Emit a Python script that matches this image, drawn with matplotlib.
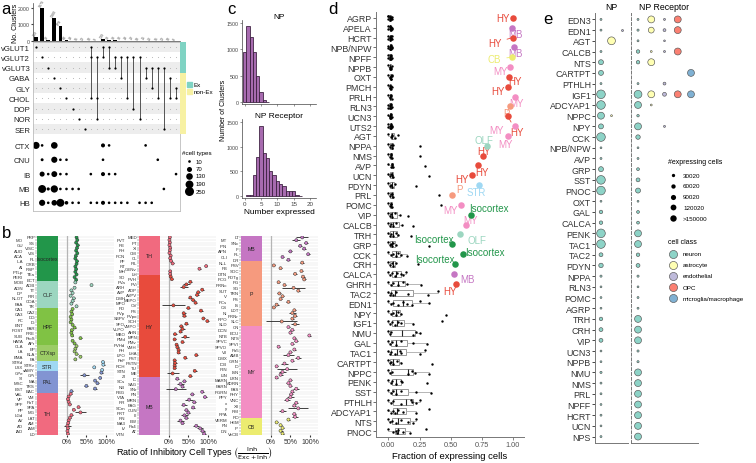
import numpy as np
import matplotlib
matplotlib.use("Agg")
import matplotlib.pyplot as plt
import matplotlib.transforms as mtrans

plt.rcParams['font.family'] = ['Liberation Sans', 'DejaVu Sans']

W, H = 756, 464
fig = plt.figure(figsize=(W / 100, H / 100), dpi=100)


def px_axes(l, t, w, h):
    return fig.add_axes([l / W, 1 - (t + h) / H, w / W, h / H])


# ---------------- data: panel a ----------------
nt_names = ["vGLUT1", "vGLUT2", "vGLUT3", "GABA", "GLY", "CHOL", "DOP", "NOR", "SER"]
combo_sets = [[0], [1], [2], [3], [4], [5], [6], [7], [8], [0, 1, 5], [1, 5, 7], [0, 1],
              [0, 2], [1, 2], [1, 3], [1, 5], [1, 6], [1, 7], [2, 3], [2, 4], [2, 5],
              [2, 8], [3, 5], [4, 5]]
combo_counts = [239, 1979, 32, 1380, 878, 64, 28, 15, 12, 10, 9, 139,
                38, 33, 30, 28, 22, 18, 25, 20, 15, 12, 10, 8]
region_names = ["CTX", "CNU", "IB", "MB", "HB"]
ctx_types = [150, 10, 0, 130, 0, 0, 0, 0, 0, 0, 0, 40, 10, 0, 0, 0, 0, 0, 10, 0, 0, 0, 0, 0]
cnu_types = [0, 15, 0, 110, 10, 10, 0, 0, 0, 0, 0, 10, 0, 0, 0, 0, 0, 0, 0, 0, 10, 0, 0, 0]
ib_types = [0, 70, 10, 100, 10, 10, 0, 0, 0, 10, 0, 40, 10, 10, 0, 0, 0, 0, 0, 0, 0, 0, 0, 10]
mb_types = [0, 190, 20, 160, 10, 10, 10, 10, 0, 0, 0, 0, 0, 0, 0, 0, 0, 0, 0, 0, 0, 10, 0, 0]
hb_types = [0, 110, 10, 90, 190, 30, 10, 10, 0, 10, 10, 40, 10, 10, 10, 10, 0, 10, 10, 10, 0, 0, 0, 0]
size_legend_vals = [10, 70, 130, 190, 250]

# ---------------- data: panel b ----------------
b1_names = ["FRP", "MO", "SS", "GU", "VISC", "AUD", "VIS", "ACA", "PL", "ILA", "ORB", "AI", "RSP", "PTLp",
            "TEa", "PERI", "ECT", "MOB", "AOB", "AON", "TT", "DP", "PIR", "NLOT", "COA", "PAA", "TR",
            "CA1", "CA2", "CA3", "DG", "FC", "IG", "ENT", "PAR", "POST", "PRE", "SUB", "ProS", "HATA",
            "APr", "CLA", "EP", "LA", "BLA", "BMA", "PA", "STRd", "STRv", "LSX", "sAMY", "GPe", "GPi",
            "SI", "MA", "MSC", "TRS", "BST", "BAC", "VAL", "VM", "VP", "PoT", "SPF", "SPA", "PP", "MG",
            "LGd", "LAT", "AV", "AM", "AD", "IAM", "IAD", "LD"]
b1_vals = [.25, .27, .24, .28, .26, .24, .27, .23, .22, .26, .25, .22, .24, .22, .25, .20, .24,
           .22, .63, .20, .12, .15, .10, .18, .15, .12, .25,
           .15, .12, .14, .10, .12, .10, .15, .20, .13, .12, .14, .35, .15, .20,
           .25, .22, .20, .25, .35, .22,
           .92, .93, .70, .90,
           .88, .45, .85, .72, .78, .50, .72, .12,
           .10, .05, .03, .05, .08, .30, .18, .35, .12, .08, .05, .04, .02, .03, .02, .03]
b1_err = [.02, .02, .02, .02, .02, .02, .02, .02, .02, .02, .02, .02, .02, .02, .02, .02, .02,
          .02, .02, .02, .02, .02, .02, .02, .03, .02, .02,
          .02, .02, .02, .02, .02, .02, .02, .03, .02, .02, .02, .05, .02, .02,
          .02, .02, .02, .03, .02, .02,
          .03, .03, .03, .03,
          .03, .12, .03, .03, .04, .05, .04, .03,
          .03, .02, .02, .02, .02, .04, .03, .15, .03, .02, .02, .02, .08, .02, .02, .02]
b1_blocks = ["Isocortex", "OLF", "HPF", "CTXsp", "STR", "PAL", "TH"]
b1_block_n = [17, 10, 14, 6, 4, 8, 16]

b2_names = ["MED", "PVT", "PT", "RE", "Xi", "RH", "CM", "PCN", "CL", "PF", "PIL", "RT", "GENv", "MH", "LH",
            "SO", "PVH", "PVa", "PVi", "ARH", "ADP", "AVP", "AVPV", "DMH", "MEPO", "MPO", "OV", "PD",
            "PS", "PVp", "PVpo", "SBPV", "SCH", "SFO", "VMPO", "VLPO", "AHN", "MBO", "MPN", "PMd",
            "PMv", "PVHd", "VMH", "PH", "LHA", "LPO", "PST", "PeF", "PSTN", "RCH", "TU", "STN", "ME",
            "ZI", "IC", "SCs", "SAG", "NB", "SNr", "PBG", "PN", "VTA", "MRN", "RR", "PAG", "SCm", "CUN",
            "PRT", "III", "RN", "EW", "MA3", "Pa4", "IV", "AT", "VTN"]
b2_vals = [.03, .02, .03, .02, .04, .03, .02, .05, .04, .06, .10, .95, .78, .04, .04,
           .05, .08, .55, .45, .38, .85, .75, .72, .55, .62, .68, .12, .50, .82, .38, .40, .88,
           .98, .45, .32, .35, .30, .16, .42, .15, .35, .20, .22, .25, .25, .70, .42, .15, .16,
           .15, .15, .66, .10, .55,
           .22, .40, .30, .35, .18, .85, .60, .92, .52, .65, .38, .62, .45, .50, .40, .45, .30,
           .35, .70, .80, .86, .90]
b2_err = [.01, .01, .01, .01, .01, .01, .01, .02, .01, .02, .03, .03, .04, .02, .02,
          .02, .02, .05, .08, .10, .04, .05, .04, .05, .05, .04, .30, .05, .04, .05, .05, .04,
          .04, .05, .05, .06, .05, .04, .10, .04, .05, .04, .04, .04, .04, .04, .04, .03, .04,
          .04, .04, .05, .15, .05,
          .05, .05, .10, .05, .25, .04, .05, .04, .10, .05, .08, .05, .05, .05, .10, .05, .08,
          .05, .08, .08, .06, .05]
b2_blocks = ["TH", "HY", "MB"]
b2_block_n = [15, 39, 22]

b3_names = ["LT", "MT", "SNc", "IPN", "IF", "APN", "RL", "CLI", "DR",
            "NLL", "PSV", "PB", "SOC", "DTN", "PDTg", "PCG", "PG", "PRNc", "SG", "SUT", "TRN", "V",
            "PS", "PCs", "IS", "CS", "LDT", "NI", "PRNr", "RPO", "SLC", "SLD",
            "CN", "DCN", "ECU", "NTB", "NTS", "SPVC", "SPVI", "SPVO", "Pa5", "VII", "AMB", "DMX",
            "GRN", "ICB", "IO", "IRN", "ISN", "LIN", "LRN", "MARN", "MDRN", "PARN", "PAS", "PGRN",
            "PHY", "PPY", "VNC", "x", "XII", "y", "RM", "RPA", "RO",
            "VERM", "HEM", "FN", "IP", "DN", "VeCB"]
b3_vals = [.80, .65, .90, .75, .85, .50, .95, .30, .45,
           .80, .08, .25, .78, .62, .82, .85, .20, .35, .58, .70, .22, .30, .25, .45, .15, .08,
           .60, .55, .62, .55, .28, .62,
           .45, .55, .50, .98, .60, .65, .55, .20, .60, .50, .45, .70, .55, .35, .15, .42, .30,
           .25, .15, .50, .45, .50, .65, .55, .52, .50, .42, .65, .60, .70, .30, .60, .62,
           .45, .15, .25, .30, .25, .30]
b3_err = [.15, .10, .05, .05, .05, .05, .04, .05, .05,
          .05, .03, .04, .04, .05, .05, .04, .03, .05, .30, .04, .05, .04, .03, .05, .05, .03,
          .04, .08, .05, .04, .40, .10,
          .04, .05, .04, .03, .04, .05, .04, .03, .04, .04, .15, .08, .04, .08, .04, .25, .08,
          .05, .04, .04, .05, .04, .08, .04, .05, .08, .08, .05, .05, .25, .08, .05, .08,
          .04, .04, .04, .05, .05, .05]
b3_blocks = ["MB", "P", "MY", "CB"]
b3_block_n = [9, 23, 33, 6]

# ---------------- data: panel c ----------------
np_bins = [0, 1, 2, 3, 4, 5, 6, 7]
np_clusters = [955, 1450, 1230, 955, 500, 180, 40, 5]
rec_bins = [1, 2, 3, 4, 5, 6, 7, 8, 9, 10, 11, 12, 13, 14, 15, 16, 17]
rec_clusters = [30, 20, 430, 800, 1410, 880, 770, 500, 420, 300, 250, 200, 110, 100, 100, 20, 5]

# ---------------- data: panel d ----------------
d_genes = ["AGRP", "APELA", "HCRT", "NPB/NPW", "NPFF", "NPPB", "OXT", "PMCH", "PRLH", "RLN3",
           "UCN3", "UTS2", "AGT", "NPPA", "NMS", "AVP", "UCN", "PDYN", "PRL", "POMC", "VIP",
           "CALCB", "TRH", "GRP", "CCK", "CRH", "CALCA", "GHRH", "TAC2", "EDN1", "NPY", "IGF1",
           "NMU", "GAL", "TAC1", "CARTPT", "NPPC", "PENK", "SST", "PTHLH", "ADCYAP1", "NTS", "PNOC"]
d_fracs = [
    [0, 0, .01, .01, .02, .02, .03, 0, .01, .02, .03],
    [0, .01, .01, .02, .02, .03, 0, .01, .02, .03],
    [0, 0, .01, .01, .02, .02, .03, .03, .01, .02],
    [0, .01, .01, .02, .02, .03, .01, .02, .03, 0],
    [0, 0, .01, .02, .02, .03, .01, .02],
    [0, .01, .01, .02, .03, .02, .01],
    [0, .01, .02, .02, .03, .01, .02, .03],
    [0, .01, .01, .02, .02, .03, .01],
    [0, .01, .02, .03, .02, .01],
    [0, 0, .01, .02, .02, .03, .01, .02],
    [0, .01, .01, .02, .02, .03, .01, .02],
    [0, 0, .01, .02, .02, .03, .01, .02, .03],
    [0, .02, .03, .05, .08, .03],
    [0, .01, .02, .03, .04, .25],
    [0, .01, .02, .03, .02, .25],
    [0, .02, .03, .04, .03, .29],
    [0, .01, .03, .04, .02, .33],
    [0, .01, .02, .03, .05, .22],
    [0, .01, .02, .04, .03, .41],
    [0, .01, .02, .03, .02, .42],
    [0, .01, .02, .03, .05, .09, .16],
    [0, .01, .02, .04, .06, .11, .20],
    [0, .01, .02, .04, .06, .08, .18],
    [0, .01, .02, .03, .04, .06, .33],
    [0, .02, .04, .06, .08, .10, .15],
    [0, .01, .03, .04, .06, .24],
    [0, .01, .03, .05, .07, .10, .12, .14],
    [0, .02, .04, .08, .12, .15, .26],
    [0, .01, .02, .04, .06, .16, .32, .40],
    [0, .02, .04, .08, .12, .15, .19, .25, .33],
    [0, .02, .04, .06, .08, .10, .46],
    [0, .01, .03, .05, .08, .10, .20, .43],
    [0, .01, .02, .20, .22, .25],
    [0, .01, .03, .06, .10, .20, .31],
    [0, .01, .02, .05, .09, .10, .25, .29],
    [0, .01, .02, .04, .07, .10, .35],
    [0, .01, .03, .16, .19, .21, .33],
    [0, .02, .03, .06, .10, .11, .31],
    [0, .02, .04, .06, .10, .22, .34],
    [0, .02, .04, .10, .18, .19, .22, .25],
    [0, .02, .04, .05, .08, .12, .22, .33],
    [0, .01, .03, .06, .10, .16, .20, .22],
    [0, .04, .06, .07, .08, .12, .17, .30],
]
d_top_frac = [1.00, .99, 1.00, 1.01, .99, .98, .97, .96, 1.02, .98, .96, 1.02, .96, .79, .76,
              .72, .67, .73, .51, .58, .66, .62, .575, .51, .60, .535, .53, .54]
d_top_region = ["HY", "MB", "HY", "MB", "CB", "MY", "HY", "HY", "MY", "P", "HY", "MY", "MY", "OLF",
                "HY", "HY", "HY", "STR", "P", "MY", "Isocortex", "MY", "OLF", "Isocortex",
                "Isocortex", "Isocortex", "MB", "HY"]

# ---------------- data: panel e ----------------
e_genes = ["EDN3", "EDN1", "AGT", "CALCB", "NTS", "CARTPT", "PTHLH", "IGF1", "ADCYAP1", "NPPC",
           "NPY", "CCK", "NPB/NPW", "AVP", "GRP", "SST", "PNOC", "OXT", "GAL", "CALCA", "PENK",
           "TAC1", "TAC2", "PDYN", "NPPA", "RLN3", "POMC", "AGRP", "TRH", "CRH", "VIP", "UCN3",
           "NPPB", "NMU", "NMS", "PRL", "NPFF", "HCRT", "UCN", "NPS"]
np_neuron = [2000, 2000, 0, 2000, 40000, 40000, 2000, 150000, 150000, 90000, 40000, 150000, 1500,
             2000, 40000, 150000, 150000, 1500, 15000, 15000, 150000, 150000, 20000, 30000, 3000,
             1500, 1500, 1500, 15000, 20000, 20000, 1500, 1500, 3000, 2000, 2000, 1500, 2000,
             1500, 2000]
np_astro = [0, 0, 120000, 0, 0, 0, 0, 0, 0, 1500] + [0] * 30
np_endo = [0, 2000] + [0] * 38
rec_neuron = [2000, 3000, 2000, 15000, 15000, 0, 2000, 120000, 90000, 5000, 90000, 30000, 1500,
              2000, 8000, 20000, 40000, 1500, 8000, 8000, 90000, 90000, 15000, 20000, 3000, 1500,
              2000, 2000, 90000, 90000, 90000, 3000, 3000, 90000, 90000, 90000, 90000, 90000,
              90000, 90000]
rec_astro = [90000, 60000, 0, 1500, 90000, 0, 0, 90000, 1500] + [0] * 31
rec_endo = [2000, 8000, 1000, 2000, 0, 0, 8000, 20000, 0, 0, 2000] + [0] * 29
rec_opc = [90000, 90000, 0, 90000, 0, 0, 0, 90000] + [0] * 32
rec_micro = [0, 0, 0, 0, 0, 90000, 0, 90000] + [0] * 32
cell_classes = ["neuron", "astrocyte", "endothelial", "OPC", "microglia/macrophage"]
expr_legend = [30020, 60020, 90020, 120020, 150000]
expr_legend_lab = ["30020", "60020", "90020", "120020", ">150000"]

# ---------------- styles ----------------
reg_col = {"Isocortex": "#22964a", "OLF": "#9cd6c0", "HPF": "#80c244", "CTXsp": "#9ccc66",
           "STR": "#9fd8f3", "PAL": "#8294d2", "TH": "#f16a7f", "HY": "#e84b3c",
           "MB": "#c576c3", "P": "#f69a7e", "MY": "#f38ec3", "CB": "#ecec70"}
class_col = ["#8dd3c7", "#ffffb3", "#bebada", "#fb8072", "#80b1d3"]

# ======================= panel a =======================
ncol = len(combo_counts)
xl = (-0.5, 23.65)
axb = px_axes(33, 4, 147, 38)
axb.bar(np.arange(ncol), combo_counts, width=0.6, color="k")
for i, v in enumerate(combo_counts):
    axb.text(i - 0.1, v + 40, str(v), rotation=60, rotation_mode="anchor", fontsize=2.6,
             color="#555", ha="left", va="bottom")
axb.set_xlim(*xl)
axb.set_ylim(0, 2300)
axb.set_yticks([0, 1000, 2000])
axb.tick_params(axis="y", labelsize=3.8, length=1.5, pad=1, colors="#444")
axb.set_xticks([])
axb.set_ylabel("No. Clusters", fontsize=5, labelpad=1)
axb.yaxis.set_label_coords(-14 / 147, 0.5)
for s in ["top", "right"]:
    axb.spines[s].set_visible(False)
for s in ["left", "bottom"]:
    axb.spines[s].set_linewidth(0.5)
    axb.spines[s].set_color("#444")

axm = px_axes(33, 43, 147, 169)
axm.set_xlim(*xl)
axm.set_ylim(16.0, -0.49)
for i in range(0, 9, 2):
    axm.axhspan(i - 0.5, i + 0.5, color="#ededed", lw=0)
for r in range(9):
    axm.scatter(np.arange(ncol), np.full(ncol, r), s=0.6, color="#b5b5b5", lw=0)
for c, members in enumerate(combo_sets):
    if len(members) > 1:
        axm.plot([c, c], [min(members), max(members)], color="#555", lw=0.7, zorder=2)
    axm.scatter([c] * len(members), members, s=2.5, color="k", lw=0, zorder=3)
region_rows = [9.6, 11.0, 12.4, 13.85, 15.2]
for rr, sizes in zip(region_rows, [ctx_types, cnu_types, ib_types, mb_types, hb_types]):
    sz = np.array(sizes)
    m = sz > 0
    axm.scatter(np.arange(ncol)[m], np.full(m.sum(), rr), s=2 + 0.16 * sz[m], color="k", lw=0)
axm.set_yticks(list(range(9)) + region_rows)
axm.set_yticklabels(nt_names + region_names, fontsize=5.6, color="#222")
axm.set_xticks([])
axm.tick_params(axis="y", length=0, pad=2)
for s in axm.spines.values():
    s.set_color("#bdbdbd")
    s.set_linewidth(0.6)

axs = px_axes(180, 43, 6, 92)
axs.set_xlim(0, 1)
axs.set_ylim(8.5, -0.49)
axs.axhspan(-0.49, 2.5, color="#7fd3c3", lw=0)
axs.axhspan(2.5, 8.5, color="#f7f1a3", lw=0)
axs.axis("off")
fig.patches.append(plt.Rectangle((187 / W, 1 - 88 / H), 5 / W, 5 / H, transform=fig.transFigure,
                                 color="#7fd3c3"))
fig.patches.append(plt.Rectangle((187 / W, 1 - 95 / H), 5 / W, 5 / H, transform=fig.transFigure,
                                 color="#f7f1a3"))
fig.text(194 / W, 1 - 85.5 / H, "Ex", fontsize=4.5, va="center")
fig.text(194 / W, 1 - 92.5 / H, "non-Ex", fontsize=4.5, va="center")

axl = px_axes(182, 148, 40, 50)
axl.set_xlim(0, 40)
axl.set_ylim(50, 0)
axl.axis("off")
axl.text(0, 5, "#cell types", fontsize=4.5, va="center")
for k, v in enumerate(size_legend_vals):
    yy = 14 + k * 7.5
    axl.scatter([7], [yy], s=2 + 0.16 * v, color="k", lw=0)
    axl.text(14, yy, str(v), fontsize=4.3, va="center")

# ======================= panel b =======================
def b_group(x0, names, vals, errs, blocks, block_n):
    n = len(names)
    axd = px_axes(x0 + 21, 237, 56, 199)
    axk = px_axes(x0, 237, 21, 199)
    for ax in (axd, axk):
        ax.set_ylim(n - 0.5, -0.5)
    axd.set_xlim(-0.22, 1.2)
    for r in range(n):
        axd.axhline(r, color="#e2e2e2", lw=0.35, zorder=0)
    axd.axvline(0, color="#b5b5b5", lw=0.9, zorder=0)
    rows = np.arange(n)
    cols = []
    for b, k in zip(blocks, block_n):
        cols += [reg_col[b]] * k
    axd.hlines(rows, np.array(vals) - np.array(errs), np.array(vals) + np.array(errs),
               color="#222", lw=0.6, zorder=2)
    axd.scatter(vals, rows, s=5, c=cols, edgecolors="#333", linewidths=0.35, zorder=3)
    axd.set_yticks([])
    axd.set_xticks([0, 0.5, 1.0])
    axd.set_xticklabels(["0%", "50%", "100%"])
    axd.tick_params(axis="x", labelsize=5, length=1.5, pad=1, colors="#333")
    for s in axd.spines.values():
        s.set_visible(False)
    # region blocks
    axk.set_xlim(0, 1)
    start = -0.5
    for b, k in zip(blocks, block_n):
        axk.axhspan(start, start + k, color=reg_col[b], lw=0)
        axk.text(0.5, start + k / 2, b, fontsize=3.8, ha="center", va="center", color="#222")
        start += k
    axk.set_xticks([])
    axk.set_yticks(rows)
    axk.set_yticklabels([])
    axk.tick_params(axis="y", length=1.2, width=0.3, colors="#555")
    for s in axk.spines.values():
        s.set_visible(False)
    tr = mtrans.blended_transform_factory(axk.transAxes, axk.transData)
    for r, nm in enumerate(names):
        xx = -0.1 if r % 2 == 0 else -0.66
        axk.text(xx, r, nm, transform=tr, fontsize=3.2, ha="right", va="center", color="#333")


b_group(37, b1_names, b1_vals, b1_err, b1_blocks, b1_block_n)
b_group(139, b2_names, b2_vals, b2_err, b2_blocks, b2_block_n)
b_group(241, b3_names, b3_vals, b3_err, b3_blocks, b3_block_n)
fig.text(195 / W, 1 - 454 / H,
         r"Ratio of Inhibitory Cell Types $\left(\frac{\mathrm{Inh}}{\mathrm{Exc+Inh}}\right)$",
         fontsize=6.5, ha="center", va="center")

# ======================= panel c =======================
hist_kw = dict(width=1, color="#a263ab", edgecolor="#3a1f3e", linewidth=0.6, alpha=0.95)
axc1 = px_axes(242, 21, 74, 84)
axc1.bar(np_bins, np_clusters, **hist_kw)
axc2 = px_axes(242, 120, 74, 79)
axc2.bar(rec_bins, rec_clusters, **hist_kw)
for ax, ttl in ((axc1, "NP"), (axc2, "NP Receptor")):
    ax.set_xlim(-0.8, 21.8)
    ax.set_ylim(-40, 1560)
    ax.set_yticks([0, 500, 1000, 1500])
    ax.set_xticks([0, 5, 10, 15, 20])
    ax.tick_params(labelsize=3.8, length=1.5, pad=1, colors="#444", width=0.4)
    ax.set_title(ttl, fontsize=6, pad=1)
    for s in ["top", "right"]:
        ax.spines[s].set_visible(False)
    for s in ["left", "bottom"]:
        ax.spines[s].set_linewidth(0.5)
        ax.spines[s].set_color("#444")
axc1.set_xticklabels([])
axc2.tick_params(axis="x", labelsize=4.5)
axc2.set_xlabel("Number expressed", fontsize=6, labelpad=1)
fig.text(223 / W, 1 - 110 / H, "Number of Clusters", rotation=90, fontsize=5,
         ha="center", va="center")

# ======================= panel d =======================
axd = px_axes(376, 13, 148, 425)
nd = len(d_genes)
axd.set_ylim(nd - 0.4, -0.6)
axd.set_xlim(-0.1, 1.09)
axd.boxplot(d_fracs, positions=np.arange(nd), orientation="horizontal", widths=0.6,
            showfliers=False, patch_artist=True,
            medianprops=dict(color="#222", lw=0.8),
            boxprops=dict(facecolor="white", edgecolor="#888", lw=0.6),
            whiskerprops=dict(color="#aaa", lw=0.6), capprops=dict(lw=0))
jit = [-0.18, 0.12, -0.05, 0.2, -0.12, 0.05, 0.16, -0.2, 0.0, 0.1, -0.08]
for i, vals in enumerate(d_fracs):
    axd.scatter(vals, [i + jit[k % len(jit)] for k in range(len(vals))], s=3, color="k",
                lw=0, zorder=3)
lab_off = [(-10, 0, 0), (4, -6, 0), (-18, -5, 1), (1, -6, 0), (-17, -2, 1), (-10, -4, 0),
           (6, -4, 0), (-10, -4, 0), (1, -6, 0), (-4, -7, 1), (9, -16, 1), (-19, -4, 0),
           (-2, -8, 0), (-3, 6, 0), (1, 5, 0), (4, -7, 0), (-10, -4, 0), (-3, -7, 0),
           (8, 6, 0), (-10, -5, 0), (18, 7, 0), (5, 5, 0), (17, -6, 0), (-18, 5, 0),
           (22, 2, 0), (-20, 5, 0), (13, -5, 0), (-6, -7, 0)]
for i, (v, reg) in enumerate(zip(d_top_frac, d_top_region)):
    c = reg_col[reg]
    axd.scatter([v], [i], s=22, color=c, lw=0, zorder=4)
    dx, dy, seg = lab_off[i]
    axd.annotate(reg, (v, i), xytext=(dx, dy), textcoords="offset pixels", color=c,
                 fontsize=7, ha="center", va="center",
                 arrowprops=dict(arrowstyle="-", color=c, lw=0.6, shrinkA=2, shrinkB=1) if seg else None)
axd.set_yticks(np.arange(nd))
axd.set_yticklabels(d_genes, fontsize=6.4, color="#333")
axd.set_xticks([0, 0.25, 0.5, 0.75, 1.0])
axd.set_xticklabels(["0.00", "0.25", "0.50", "0.75", "1.00"])
axd.tick_params(axis="x", labelsize=5.3, length=2, colors="#555", width=0.5, pad=1)
axd.tick_params(axis="y", length=2, colors="#333", width=0.5, pad=1)
axd.set_xlabel("Fraction of expressing cells", fontsize=6.8, labelpad=2)
for s in ["top", "right"]:
    axd.spines[s].set_visible(False)
for s in ["left", "bottom"]:
    axd.spines[s].set_color("#777")
    axd.spines[s].set_linewidth(0.7)

# ======================= panel e =======================
def expr_size(cnt):
    return (0.8 + 5.4 * np.sqrt(np.minimum(np.array(cnt, float), 150000) / 150000)) ** 2


ne = len(e_genes)
axe1 = px_axes(595, 14, 33, 430)
axe2 = px_axes(631, 14, 67, 430)
for ax, cols in ((axe1, [np_neuron, np_astro, np_endo]),
                 (axe2, [rec_neuron, rec_astro, rec_endo, rec_opc, rec_micro])):
    ax.set_ylim(ne - 0.4, -0.6)
    for j, cnts in enumerate(cols):
        cnts = np.array(cnts)
        m = cnts > 0
        ax.scatter(np.full(m.sum(), j + 1), np.arange(ne)[m], s=expr_size(cnts[m]),
                   color=class_col[j], edgecolors="#555", linewidths=0.45, zorder=3)
    ax.set_xticks([])
    for s in ["top", "right"]:
        ax.spines[s].set_visible(False)
    for s in ["left", "bottom"]:
        ax.spines[s].set_color("#777")
        ax.spines[s].set_linewidth(0.7)
axe1.set_xlim(0.43, 3.57)
axe2.set_xlim(0.47, 5.53)
axe1.set_yticks(np.arange(ne))
axe1.set_yticklabels(e_genes, fontsize=6.4, color="#333")
axe1.tick_params(axis="y", length=2, width=0.5, pad=1)
axe2.set_yticks([])
axe2.spines["left"].set_linestyle((0, (3, 2)))
axe1.set_title("NP", fontsize=6.3, pad=3)
axe2.set_title("NP Receptor", fontsize=6.3, pad=3)

axel = px_axes(660, 155, 96, 155)
axel.set_xlim(0, 96)
axel.set_ylim(155, 0)
axel.axis("off")
axel.text(8, 8, "#expressing cells", fontsize=5, va="center")
for k, (v, lab) in enumerate(zip(expr_legend, expr_legend_lab)):
    yy = 21 + k * 10.8
    axel.scatter([13], [yy], s=expr_size(v) * 0.55, color="k", lw=0)
    axel.text(23, yy, lab, fontsize=4.5, va="center")
axel.text(8, 87, "cell class", fontsize=5, va="center")
for k, (nm, c) in enumerate(zip(cell_classes, class_col)):
    yy = 100 + k * 11
    axel.scatter([13], [yy], s=34, color=c, edgecolors="#555", linewidths=0.45)
    axel.text(23, yy, nm, fontsize=4.5, va="center")

# panel letters
for lab, x, y in (("a", 1, 9), ("b", 2, 234), ("c", 227, 10), ("d", 328, 10), ("e", 543, 20)):
    fig.text(x / W, 1 - y / H, lab, fontsize=12, ha="left", va="center")

fig.savefig("out.png", dpi=100)
